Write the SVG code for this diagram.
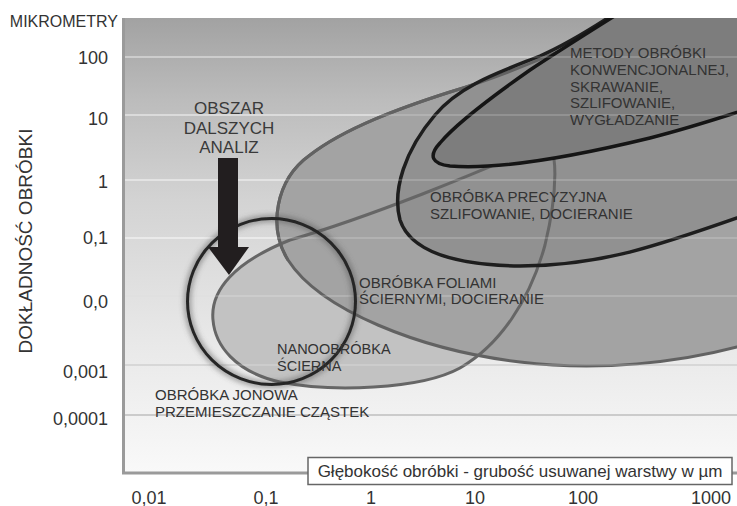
<svg xmlns="http://www.w3.org/2000/svg" width="737" height="506" viewBox="0 0 737 506">
<style>
text{font-family:"Liberation Sans",Arial,sans-serif;fill:#333}
.tick{font-size:18px}
.lab{font-size:15px;fill:#2e2e2e}
.big{font-size:17px;text-anchor:middle;fill:#3a3a3a}
.grid{stroke-width:2;fill:none}
.gridhi{stroke:#fff;stroke-opacity:0.22;stroke-width:1.5}
</style>
<defs>
<linearGradient id="bg" x1="0" y1="18" x2="0" y2="473" gradientUnits="userSpaceOnUse">
<stop offset="0" stop-color="#a2a2a2"/>
<stop offset="0.18" stop-color="#bcbcbc"/>
<stop offset="0.4" stop-color="#d3d3d3"/>
<stop offset="0.69" stop-color="#e7e7e7"/>
<stop offset="0.93" stop-color="#f5f5f5"/>
<stop offset="1" stop-color="#f9f9f9"/>
</linearGradient>
<clipPath id="plot"><rect x="123" y="18" width="614" height="455"/></clipPath>
<filter id="halo" x="-20%" y="-20%" width="140%" height="140%"><feGaussianBlur stdDeviation="2.5"/></filter>
<filter id="soft" x="-10%" y="-10%" width="120%" height="120%"><feGaussianBlur stdDeviation="0.6"/></filter>
</defs>
<rect width="737" height="506" fill="#fff"/>
<rect x="123" y="18" width="614" height="455" fill="url(#bg)"/>
<g id="gridlines">
<line class="grid" x1="123" y1="57" x2="737" y2="57" stroke="#c4c4c4"/>
<line class="grid" x1="123" y1="115" x2="737" y2="115" stroke="#d4d4d4"/>
<line class="grid" x1="123" y1="180" x2="737" y2="180" stroke="#dedede"/>
<line class="grid" x1="123" y1="238" x2="737" y2="238" stroke="#e6e6e6"/>
<line class="grid" x1="123" y1="296" x2="737" y2="296" stroke="#dadada"/>
<line class="grid" x1="123" y1="365" x2="737" y2="365" stroke="#cfcfcf"/>
<line class="grid" x1="123" y1="415" x2="737" y2="415" stroke="#cbcbcb"/>
</g>
<g clip-path="url(#plot)">
<g id="nano-fill"><path d="M213,320 C210,290 235,262 290,240 C370,217 480,172 540,145 C562,135 556,200 545,245 C530,300 500,345 460,368 C420,390 330,392 280,382 C235,372 215,345 213,320 Z" fill="#c2c2c2"/></g>
<g id="foliami"><path d="M737,347 C680,362 600,372 520,362 C420,350 320,310 288,260 C268,228 275,180 310,155 C345,128 400,108 450,92 C500,77 540,60 580,42 C620,24 660,10 700,-5 L760,-5 L760,347 Z" fill="#a3a3a3" stroke="#626262" stroke-width="3"/></g>
<g id="precyzyjna-fill"><path d="M620,10 C590,30 565,45 540,56 C500,72 460,85 435,115 C405,150 392,190 400,220 C410,250 450,265 520,266 C600,266 660,245 737,218 L760,210 L760,10 Z" fill="#919191"/></g>
<g id="nanoobrobka"><path d="M213,320 C210,290 235,262 290,240 C370,217 480,172 540,145 C562,135 556,200 545,245 C530,300 500,345 460,368 C420,390 330,392 280,382 C235,372 215,345 213,320 Z" fill="none" stroke="#666" stroke-width="3"/></g>
<g id="foliami-top"><path d="M288,260 C268,228 275,180 310,155 C345,128 400,108 450,92 C500,77 540,60 580,42" fill="none" stroke="#626262" stroke-width="3"/></g>
<g id="precyzyjna"><path d="M620,10 C590,30 565,45 540,56 C500,72 460,85 435,115 C405,150 392,190 400,220 C410,250 450,265 520,266 C600,266 660,245 737,218 L760,210" fill="none" stroke="#1e1e1e" stroke-width="3.5"/></g>
<g id="metody"><path d="M640,0 C600,25 560,50 530,70 C490,98 455,125 440,143 C428,156 432,164 450,166 C500,170 580,155 650,138 C690,128 720,118 760,105 L760,0 Z" fill="#7d7d7d" stroke="#151515" stroke-width="3.5"/></g>
<g id="gridlines-over">
<line class="gridhi" x1="123" y1="57" x2="737" y2="57"/>
<line class="gridhi" x1="123" y1="115" x2="737" y2="115"/>
<line class="gridhi" x1="123" y1="180" x2="737" y2="180"/>
<line class="gridhi" x1="123" y1="238" x2="737" y2="238"/>
<line class="gridhi" x1="123" y1="296" x2="737" y2="296"/>
<line class="gridhi" x1="123" y1="365" x2="737" y2="365"/>
</g>
<g id="obszar">
<ellipse cx="271.5" cy="301.5" rx="84" ry="83" fill="none" stroke="#555" stroke-opacity="0.45" stroke-width="8" filter="url(#halo)"/>
<ellipse cx="271.5" cy="301.5" rx="84" ry="83" fill="none" stroke="#262626" stroke-width="3" filter="url(#soft)"/>
</g>
</g>
<g id="axes" fill="none" stroke="#9a9a9a" stroke-width="3">
<line x1="123.5" y1="18" x2="123.5" y2="474"/>
<line x1="122" y1="473" x2="737" y2="473"/>
</g>
<g id="connectors">
<rect x="218" y="158" width="20" height="91" fill="#221e1f"/>
<polygon points="208,247 249,247 229,275" fill="#221e1f"/>
</g>
<g id="labels">
<text x="118" y="27" font-size="16" text-anchor="end">MIKROMETRY</text>
<text transform="translate(32,241) rotate(-90)" font-size="19" text-anchor="middle">DOKŁADNOŚĆ OBRÓBKI</text>
<g class="tick" text-anchor="end">
<text x="108" y="63.5">100</text>
<text x="108" y="124.5">10</text>
<text x="108" y="188">1</text>
<text x="108" y="244">0,1</text>
<text x="108" y="308">0,0</text>
<text x="108" y="378">0,001</text>
<text x="108" y="424.5">0,0001</text>
</g>
<g class="tick" text-anchor="middle">
<text x="149" y="503.5">0,01</text>
<text x="266" y="503.5">0,1</text>
<text x="371" y="503.5">1</text>
<text x="475" y="503.5">10</text>
<text x="583" y="503.5">100</text>
<text x="711" y="503.5">1000</text>
</g>
<g id="obszar-label">
<text class="big" x="229" y="114">OBSZAR</text>
<text class="big" x="229" y="134">DALSZYCH</text>
<text class="big" x="229" y="153">ANALIZ</text>
</g>
<g id="metody-label" class="lab">
<text x="570" y="57.5">METODY OBRÓBKI</text>
<text x="570" y="75">KONWENCJONALNEJ,</text>
<text x="570" y="91.5">SKRAWANIE,</text>
<text x="570" y="108">SZLIFOWANIE,</text>
<text x="570" y="124.5">WYGŁADZANIE</text>
</g>
<g id="precyzyjna-label" class="lab">
<text x="430" y="202">OBRÓBKA PRECYZYJNA</text>
<text x="430" y="218.5">SZLIFOWANIE, DOCIERANIE</text>
</g>
<g id="foliami-label" class="lab">
<text x="359" y="287.5">OBRÓBKA FOLIAMI</text>
<text x="359" y="304">ŚCIERNYMI, DOCIERANIE</text>
</g>
<g id="nano-label" class="lab" font-size="14.5">
<text x="277" y="354" style="font-size:14.5px">NANOOBRÓBKA</text>
<text x="277" y="371" style="font-size:14.5px">ŚCIERNA</text>
</g>
<g id="jonowa-label" class="lab">
<text x="155" y="399.5">OBRÓBKA JONOWA</text>
<text x="155" y="416.5">PRZEMIESZCZANIE CZĄSTEK</text>
</g>
</g>
<g id="xaxis-box">
<rect x="308" y="457.5" width="424" height="27" fill="#fff" stroke="#666" stroke-width="1.5"/>
<text x="520" y="476.5" font-size="17" text-anchor="middle">Głębokość obróbki - grubość usuwanej warstwy w µm</text>
</g>
</svg>
